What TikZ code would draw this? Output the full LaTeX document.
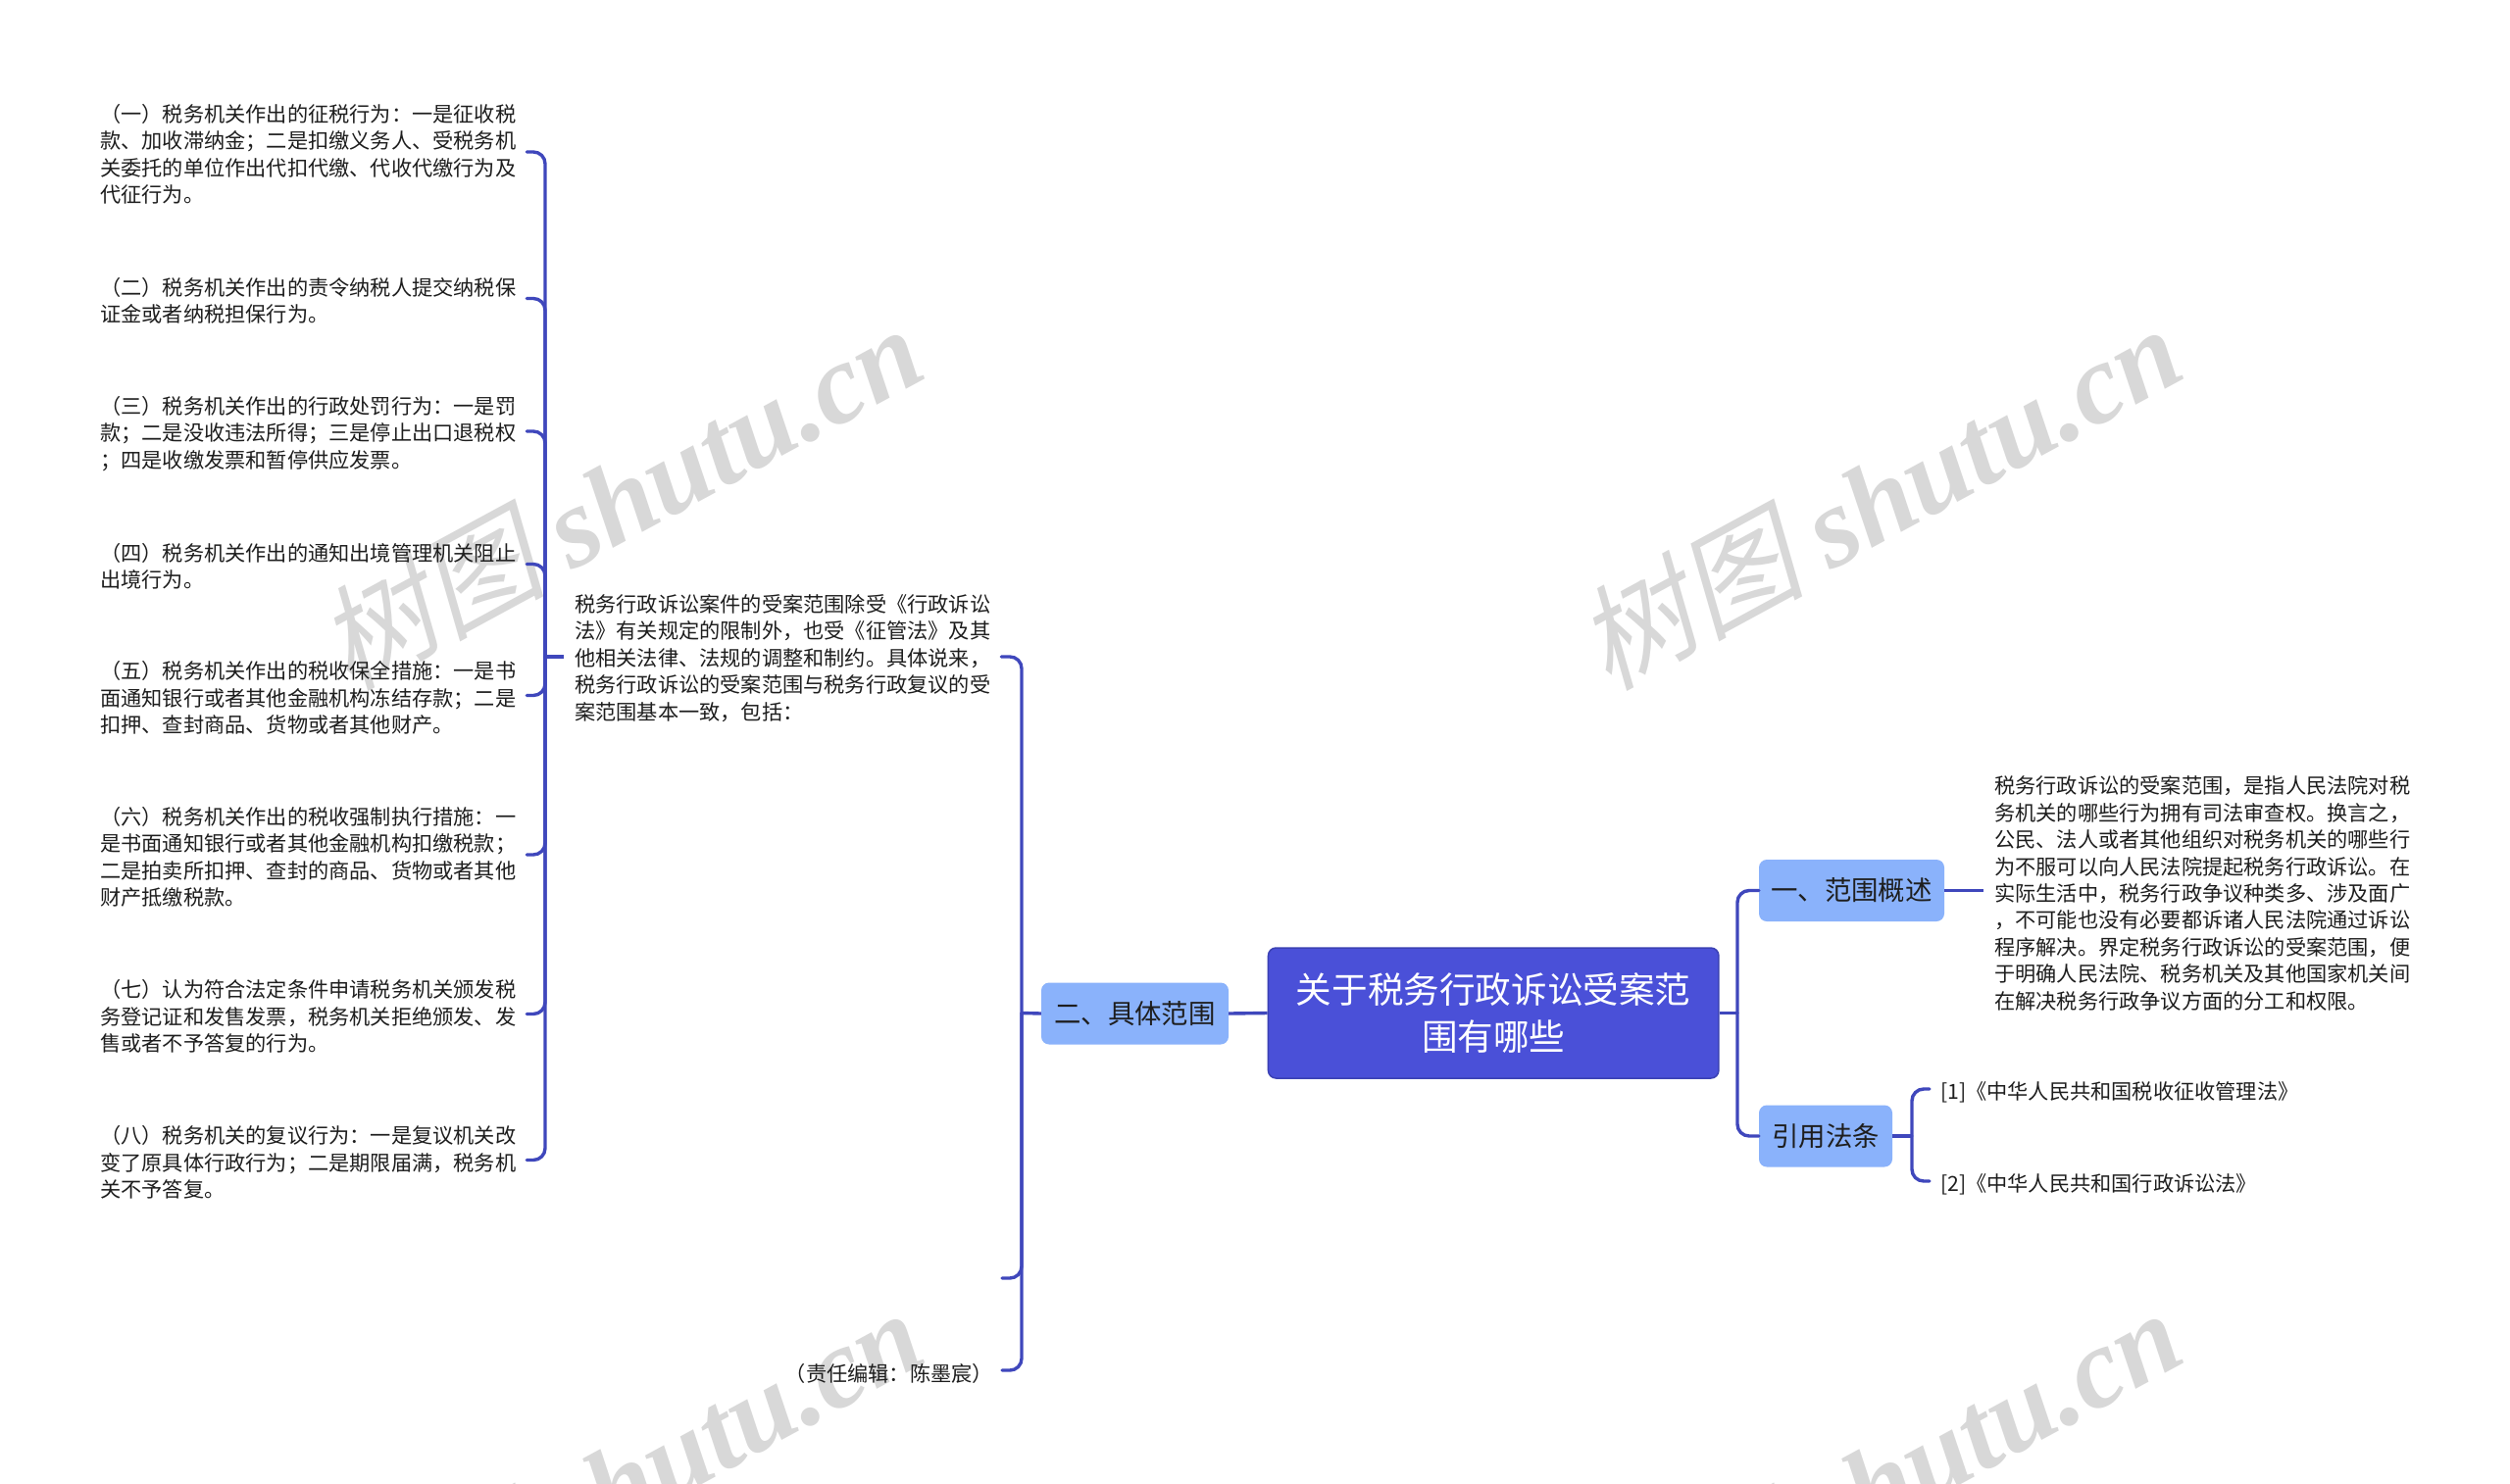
\documentclass[tikz,border=0pt]{standalone}
\usepackage{fontspec}
\setmainfont{Noto Sans CJK SC}
\newfontfamily\wcjk[FakeSlant=0.22]{Noto Sans CJK SC}
\newfontfamily\wlat{Liberation Serif}[ItalicFont=* Bold Italic]
\definecolor{rootfill}{HTML}{4A50D8}
\definecolor{rootline}{HTML}{3B41B4}
\definecolor{conn}{HTML}{3F47BC}
\definecolor{subfill}{HTML}{8AB2FB}
\definecolor{ink}{HTML}{1E1E1E}
\definecolor{wm}{HTML}{D8D8D8}
\tikzset{
  rootbox/.style={fill=rootfill,draw=rootline,line width=1.5pt,rounded corners=8pt,text=white,align=center,minimum width=459.5pt,minimum height=133pt,inner sep=0pt,font=\fontsize{36.6}{48}\selectfont},
  subbox/.style={fill=subfill,rounded corners=8pt,text=ink,align=center,minimum height=63pt,inner sep=0pt,font=\fontsize{27.4}{32}\selectfont},
  para/.style={text=ink,align=left,inner xsep=11pt,inner ysep=0pt,anchor=west,font=\fontsize{21.2}{27.4}\selectfont},
  straightlink/.style={draw=conn,line width=3.4pt},
  curvelink/.style={draw=conn,line width=3.4pt,rounded corners=12pt,line cap=round},
  watermark/.style={text=wm,rotate=28.5,font=\fontsize{116}{116}\selectfont,inner sep=0pt}
}
\newcommand{\wmtext}{{\wcjk 树图} {\wlat\itshape shutu.cn}}
\begin{document}
\begin{tikzpicture}[x=1pt,y=-1pt]
\path[use as bounding box,fill=white] (0,0) rectangle (2560,1513);
\begin{scope}
\clip (0,0) rectangle (2560,1513);
\node[watermark] (w1) at (632,506) {\wmtext};
\node[watermark] (w2) at (1916,506) {\wmtext};
\node[watermark] (w3) at (632,1510) {\wmtext};
\node[watermark] (w4) at (1916,1510) {\wmtext};
\end{scope}

\node[rootbox] (root) at (1523.2,1033.5) {关于税务行政诉讼受案范\\围有哪些};
\node[subbox,minimum width=191pt] (s2) at (1157.5,1034) {二、具体范围};
\node[subbox,minimum width=189pt] (s1) at (1888.5,908.5) {\raisebox{-2.5pt}{一、范围概述}};
\node[subbox,minimum width=136pt] (s3) at (1862,1159) {\raisebox{-2pt}{引用法条}};

\node[para] (p) at (575,671.5) {税务行政诉讼案件的受案范围除受《行政诉讼\\法》有关规定的限制外，也受《征管法》及其\\他相关法律、法规的调整和制约。具体说来，\\税务行政诉讼的受案范围与税务行政复议的受\\案范围基本一致，包括：};
\coordinate (blank) at (1022,1304);
\node[para,anchor=east,inner xsep=9pt] (ed) at (1022,1401) {（责任编辑：陈墨宸）};

\node[para] (c1) at (91,157.5) {（一）税务机关作出的征税行为：一是征收税\\款、加收滞纳金；二是扣缴义务人、受税务机\\关委托的单位作出代扣代缴、代收代缴行为及\\代征行为。};
\node[para] (c2) at (91,307) {（二）税务机关作出的责令纳税人提交纳税保\\证金或者纳税担保行为。};
\node[para] (c3) at (91,442.5) {（三）税务机关作出的行政处罚行为：一是罚\\款；二是没收违法所得；三是停止出口退税权\\；四是收缴发票和暂停供应发票。};
\node[para] (c4) at (91,578) {（四）税务机关作出的通知出境管理机关阻止\\出境行为。};
\node[para] (c5) at (91,712) {（五）税务机关作出的税收保全措施：一是书\\面通知银行或者其他金融机构冻结存款；二是\\扣押、查封商品、货物或者其他财产。};
\node[para] (c6) at (91,874.5) {（六）税务机关作出的税收强制执行措施：一\\是书面通知银行或者其他金融机构扣缴税款；\\二是拍卖所扣押、查封的商品、货物或者其他\\财产抵缴税款。};
\node[para] (c7) at (91,1037) {（七）认为符合法定条件申请税务机关颁发税\\务登记证和发售发票，税务机关拒绝颁发、发\\售或者不予答复的行为。};
\node[para] (c8) at (91,1186) {（八）税务机关的复议行为：一是复议机关改\\变了原具体行政行为；二是期限届满，税务机\\关不予答复。};

\node[para] (t1) at (2023,911.5) {税务行政诉讼的受案范围，是指人民法院对税\\务机关的哪些行为拥有司法审查权。换言之，\\公民、法人或者其他组织对税务机关的哪些行\\为不服可以向人民法院提起税务行政诉讼。在\\实际生活中，税务行政争议种类多、涉及面广\\，不可能也没有必要都诉诸人民法院通过诉讼\\程序解决。界定税务行政诉讼的受案范围，便\\于明确人民法院、税务机关及其他国家机关间\\在解决税务行政争议方面的分工和权限。};
\node[para] (r1) at (1968,1114) {[1]《中华人民共和国税收征收管理法》};
\node[para] (r2) at (1968,1208) {[2]《中华人民共和国行政诉讼法》};

\coordinate (jr) at (1772,1033.5);
\coordinate (jl) at (1042,1033.5);
\coordinate (jc) at (556,670);
\coordinate (jq) at (1950,1159);

\draw[straightlink] (root.east) -- (jr);
\draw[curvelink] (jr) |- (s1.west);
\draw[curvelink] (jr) |- (s3.west);
\draw[straightlink] (root.west) -- (s2.east);
\draw[straightlink] (s2.west) -- (jl);
\draw[curvelink] (jl) |- ([yshift=1.5pt]p.east);
\draw[curvelink] (jl) |- (blank);
\draw[curvelink] (jl) |- ([yshift=3pt]ed.east);
\draw[straightlink] ([yshift=1.5pt]p.west) -- (jc);
\foreach \c in {c1,c2,c3,c4,c5,c6,c7,c8} \draw[curvelink] (jc) |- ([yshift=2.5pt]\c.east);
\draw[straightlink] (s1.east) -- ([yshift=3pt]t1.west);
\draw[straightlink] (s3.east) -- (jq);
\draw[curvelink] (jq) |- ([yshift=3pt]r1.west);
\draw[curvelink] (jq) |- ([yshift=3pt]r2.west);
\end{tikzpicture}
\end{document}
